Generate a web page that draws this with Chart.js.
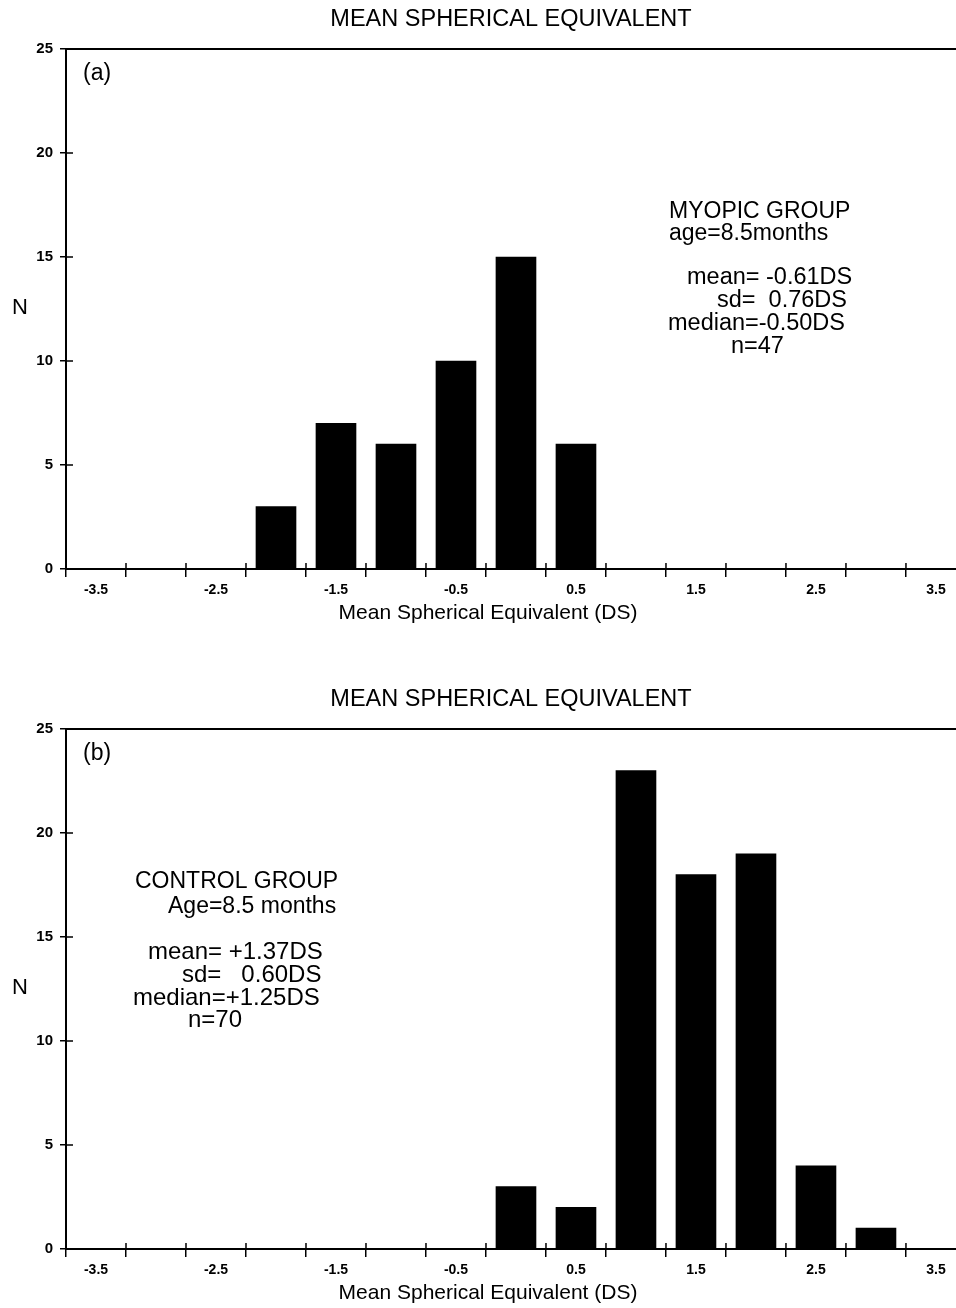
<!DOCTYPE html>
<html>
<head>
<meta charset="UTF-8">
<title>Mean Spherical Equivalent</title>
<script src="https://cdn.jsdelivr.net/npm/chart.js@4.4.0/dist/chart.umd.min.js"></script>
<style>
  body { margin: 0; background: #fff; }
  canvas { display: block; }
</style>
</head>
<body>
<canvas id="chartA" width="956" height="680"></canvas>
<canvas id="chartB" width="956" height="628"></canvas>
<script>
// histogram bins (centre of each 0.5 DS bin) and counts
const myopicBins = [-2.0, -1.5, -1.0, -0.5, 0.0, 0.5];
const myopicCounts = [3, 7, 6, 10, 15, 6];
const controlBins = [0.0, 0.5, 1.0, 1.5, 2.0, 2.5, 3.0];
const controlCounts = [3, 2, 23, 18, 19, 4, 1];

// x tick marks sit on bin edges, labels on every other bin centre
const binEdges = [-3.75, -3.25, -2.75, -2.25, -1.75, -1.25, -0.75, -0.25, 0.25, 0.75, 1.25, 1.75, 2.25, 2.75, 3.25];
const xTickLabels = ['-3.5', '-2.5', '-1.5', '-0.5', '0.5', '1.5', '2.5', '3.5'];

const chartTitle = 'MEAN SPHERICAL EQUIVALENT';
const xAxisTitle = 'Mean Spherical Equivalent (DS)';
const yAxisTitle = 'N';

const myopicText = ['MYOPIC GROUP', 'age=8.5months', 'mean= -0.61DS', 'sd=  0.76DS', 'median=-0.50DS', 'n=47'];
const controlText = ['CONTROL GROUP', 'Age=8.5 months', 'mean= +1.37DS', 'sd=   0.60DS', 'median=+1.25DS', 'n=70'];

const FONT = '"Liberation Sans", Arial, Helvetica, sans-serif';

const decorPlugin = {
  id: 'decor',
  afterDraw(chart, args, opts) {
    const { ctx, chartArea: a, scales } = chart;
    const x = scales.x, y = scales.y;
    ctx.save();
    ctx.strokeStyle = '#000';
    ctx.lineWidth = 2;
    ctx.beginPath();
    ctx.moveTo(a.left, a.top);
    ctx.lineTo(a.right, a.top);
    ctx.stroke();

    // inner half of the crossing tick marks
    ctx.lineWidth = 1.5;
    ctx.beginPath();
    x.ticks.forEach(t => {
      const px = x.getPixelForValue(t.value);
      ctx.moveTo(px, a.bottom);
      ctx.lineTo(px, a.bottom - 6);
    });
    y.ticks.forEach(t => {
      const py = y.getPixelForValue(t.value);
      ctx.moveTo(a.left, py);
      ctx.lineTo(a.left + 7, py);
    });
    ctx.stroke();

    ctx.fillStyle = '#000';
    ctx.textBaseline = 'middle';
    ctx.textAlign = 'center';
    ctx.font = '23.5px ' + FONT;
    ctx.fillText(chartTitle, (a.left + a.right) / 2, 20);
    ctx.font = '21px ' + FONT;
    ctx.fillText(xAxisTitle, 488, a.bottom + 44);
    ctx.font = '22px ' + FONT;
    ctx.fillText(yAxisTitle, 20, 308);

    ctx.textAlign = 'left';
    ctx.font = '23px ' + FONT;
    ctx.fillText(opts.tag, 83, 74);
    opts.lines.forEach((ln, i) => {
      ctx.font = ln[2] + 'px ' + FONT;
      ctx.fillText(opts.text[i], ln[0], ln[1]);
    });
    ctx.restore();
  }
};

function makeChart(id, bins, counts, tag, text, lines, padBottom) {
  return new Chart(document.getElementById(id), {
    type: 'bar',
    data: {
      datasets: [{
        data: bins.map((b, i) => ({ x: b, y: counts[i] })),
        backgroundColor: '#000',
        borderWidth: 0,
        barThickness: 40
      }]
    },
    options: {
      responsive: false,
      animation: false,
      layout: { padding: { top: 49, left: 0, right: 0, bottom: padBottom } },
      plugins: {
        legend: { display: false },
        tooltip: { enabled: false },
        decor: { tag: tag, text: text, lines: lines }
      },
      scales: {
        x: {
          type: 'linear',
          offset: false,
          min: -3.75,
          max: 3.667,
          afterBuildTicks: s => { s.ticks = binEdges.map(v => ({ value: v })); },
          afterFit: s => { s.height = 59; },
          grid: { display: true, offset: false, drawOnChartArea: false, drawTicks: true, tickLength: 8, color: '#000', lineWidth: 1.5 },
          border: { display: true, color: '#000', width: 2 },
          ticks: {
            autoSkip: false,
            maxRotation: 0,
            padding: 5,
            labelOffset: 30,
            color: '#000',
            font: { family: FONT, size: 14, weight: 'bold' },
            callback: (v, i) => (i % 2 === 0 ? xTickLabels[i / 2] : '')
          }
        },
        y: {
          min: 0,
          max: 25,
          afterFit: s => { s.width = 66; },
          grid: { display: true, drawOnChartArea: false, drawTicks: true, tickLength: 6, color: '#000', lineWidth: 1.5 },
          border: { display: true, color: '#000', width: 2 },
          ticks: {
            stepSize: 5,
            padding: 7,
            color: '#000',
            font: { family: FONT, size: 15, weight: 'bold' }
          }
        }
      }
    },
    plugins: [decorPlugin]
  });
}

makeChart('chartA', myopicBins, myopicCounts, '(a)', myopicText,
  [[669, 212, 23], [669, 234, 23], [687, 278, 23.5], [717, 301, 23.5], [668, 324, 23.5], [731, 347, 23.5]], 52);
makeChart('chartB', controlBins, controlCounts, '(b)', controlText,
  [[135, 202, 23], [168, 227, 23], [148, 272, 24], [182, 295, 24], [133, 318, 24], [188, 340, 24]], 0);
</script>
</body>
</html>
